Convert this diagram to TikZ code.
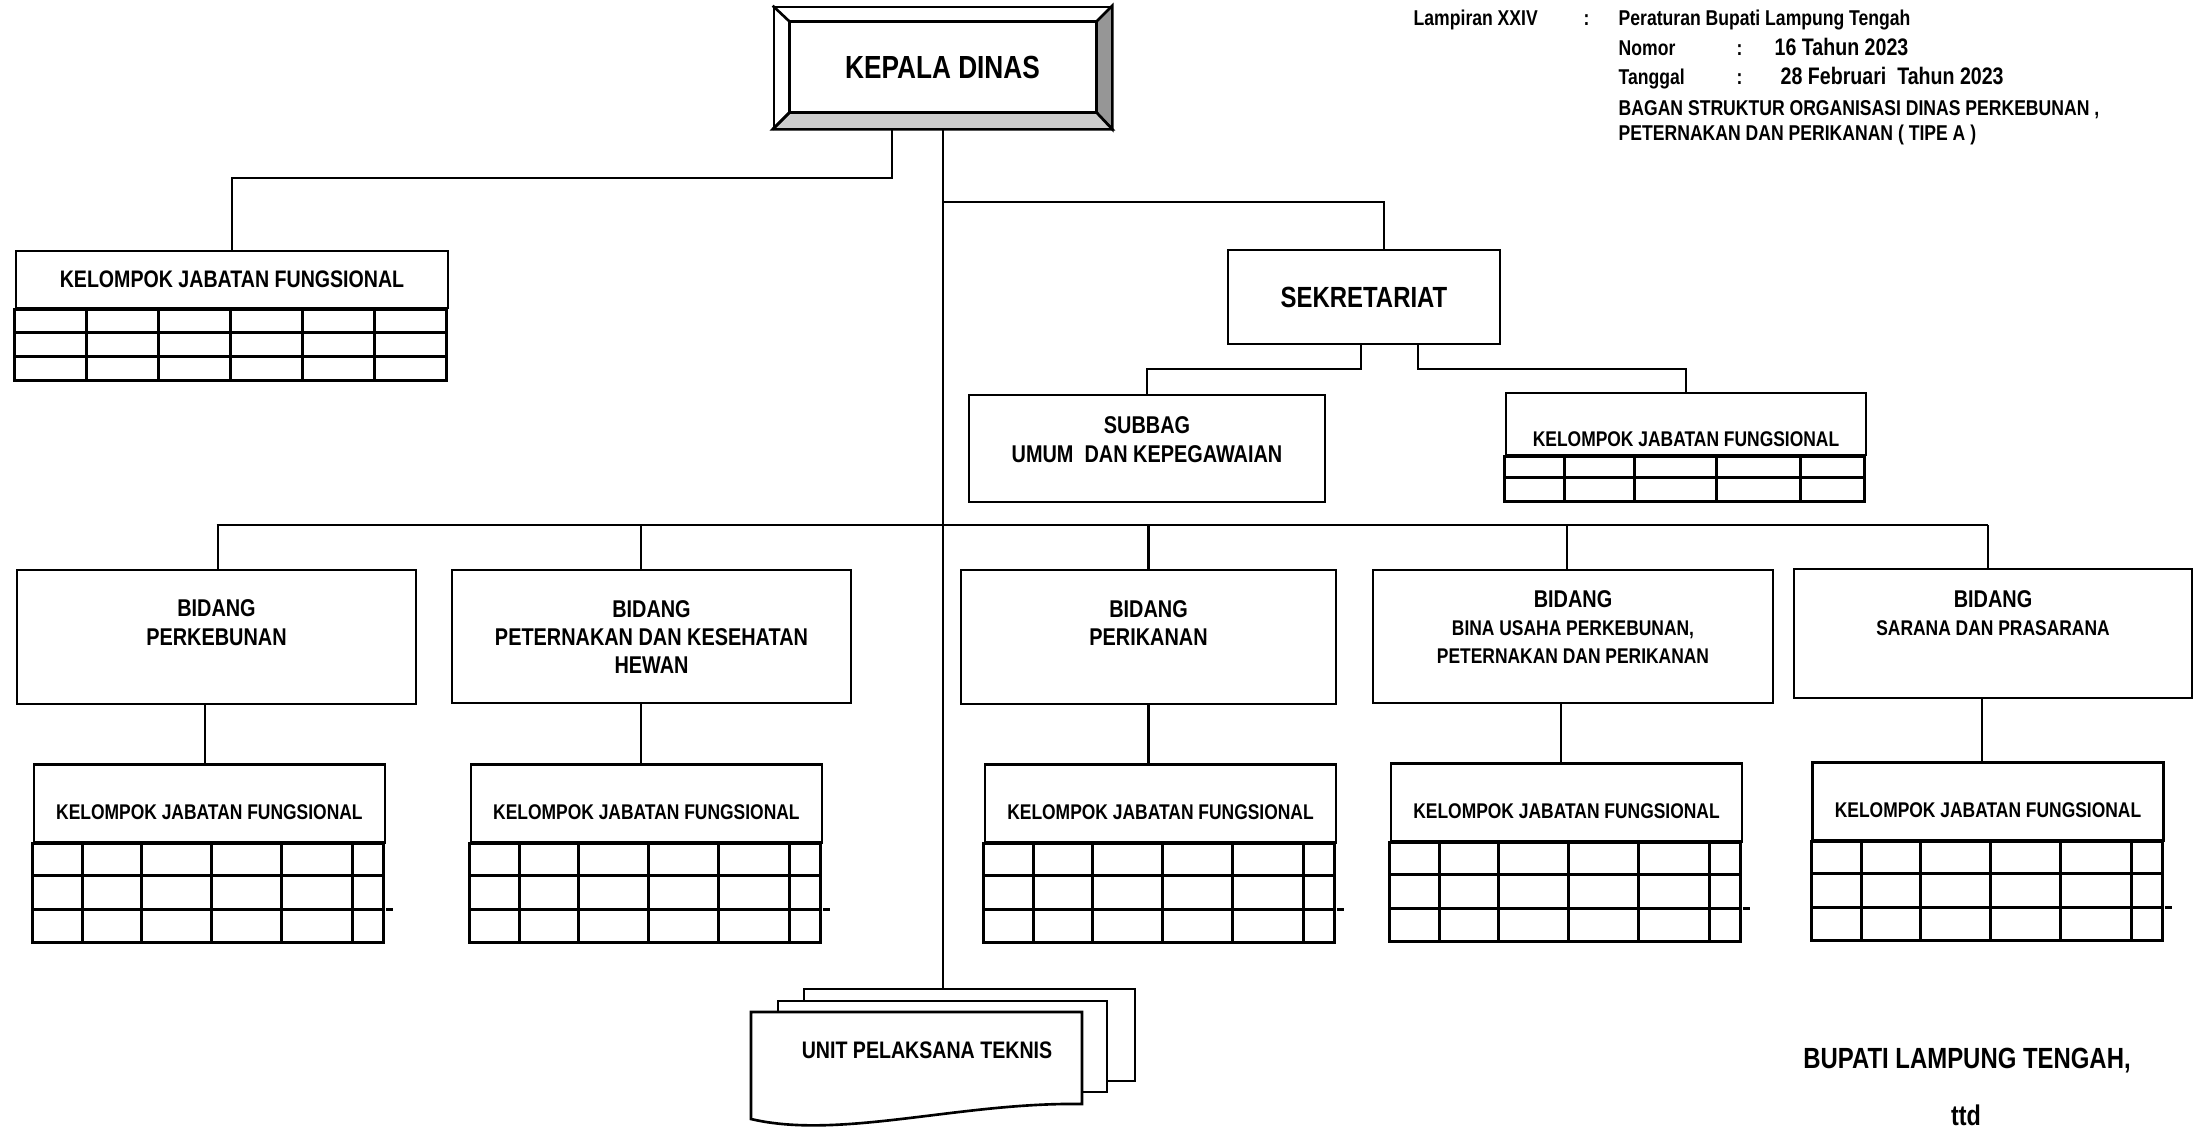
\documentclass[tikz,border=0pt]{standalone}
\usepackage{fontspec}
\setmainfont{Liberation Sans}
\newfontfamily\narrowfont[FakeStretch=0.82]{Liberation Sans Bold}
\usetikzlibrary{calc}
\definecolor{bevdark}{RGB}{150,150,150}
\definecolor{bevlight}{RGB}{205,205,205}
\newcommand{\fs}[2]{\narrowfont\fontsize{#1}{#2}\selectfont}
% rows and columns under a "kelompok" header node
\newcommand{\kjfgrid}[5]{%
  \draw[box] (#1.south west) rectangle ($(#1.south west)+(#2,-#3)$);
  \foreach \r in {#4} \draw[box] ($(#1.south west)+(0,-\r)$) -- ++(#2,0);
  \foreach \c in {#5} \draw[box] ($(#1.south west)+(\c,0)$) -- ++(0,-#3);
}
\tikzset{
  box/.style={draw, line width=0.75pt, inner sep=0pt},
  conn/.style={line width=0.65pt},
  lbl/.style={align=center, inner sep=0pt, font=\fs{6.9}{8}},
  hd/.style={anchor=base west, inner sep=0pt, font=\fs{6.1}{7}},
}
\begin{document}
\begin{tikzpicture}
\useasboundingbox (0,0) rectangle (22.03,-11.28);

% kepala dinas
\node[box, minimum width=3.37cm, minimum height=1.21cm, font=\fs{9.1}{11}] (kd) at (9.425,-0.675) {KEPALA DINAS};
\coordinate (kdnw) at ($(kd.north west)+(0.17,-0.16)$);
\coordinate (kdne) at ($(kd.north east)+(-0.16,-0.16)$);
\coordinate (kdsw) at ($(kd.south west)+(0.17,0.17)$);
\coordinate (kdse) at ($(kd.south east)+(-0.16,0.17)$);
\filldraw[box, fill=bevdark] (kd.north east) -- (kdne) -- (kdse) -- (kd.south east) -- cycle;
\filldraw[box, fill=bevlight] (kd.south west) -- (kdsw) -- (kdse) -- (kd.south east) -- cycle;
\draw[box] (kdnw) rectangle (kdse);
\draw[box] (kd.north west) -- (kdnw);
\draw[box] (kd.south west) -- (kdsw);

% header
\node[hd] (lamp) at (14.13,-0.25) {Lampiran XXIV};
\node[hd] (lampc) at (15.83,-0.25) {:};
\node[hd] (perbup) at (16.18,-0.25) {Peraturan Bupati Lampung Tengah};
\node[hd] (nomor) at (16.18,-0.55) {Nomor};
\node[hd] (nomorc) at (17.36,-0.55) {:};
\node[hd, font=\fs{6.8}{8}] (nomorv) at (17.74,-0.55) {16 Tahun 2023};
\node[hd] (tgl) at (16.18,-0.84) {Tanggal};
\node[hd] (tglc) at (17.36,-0.84) {:};
\node[hd, font=\fs{6.8}{8}] (tglv) at (17.8,-0.84) {28 Februari\ \ Tahun 2023};
\node[hd] (judul1) at (16.18,-1.15) {BAGAN STRUKTUR ORGANISASI DINAS PERKEBUNAN ,};
\node[hd] (judul2) at (16.18,-1.40) {PETERNAKAN DAN PERIKANAN ( TIPE A )};

% kelompok jabatan fungsional (kepala)
\node[box, minimum width=4.32cm, minimum height=0.57cm, font=\fs{6.8}{8}] (kjf0) at (2.32,-2.795) {KELOMPOK JABATAN FUNGSIONAL};
\kjfgrid{kjf0}{4.32}{0.71}{0.23,0.47}{0.72,1.44,2.16,2.88,3.60}

% sekretariat
\node[box, minimum width=2.72cm, minimum height=0.94cm, font=\fs{8.3}{10}] (sek) at (13.64,-2.97) {SEKRETARIAT};
\node[box, minimum width=3.56cm, minimum height=1.07cm] (subbag) at (11.47,-4.485) {};
\node[lbl] (subbagt) at ([yshift=-0.46cm]subbag.north) {SUBBAG\\UMUM\ \ DAN KEPEGAWAIAN};
\node[box, minimum width=3.60cm, minimum height=0.62cm] (kjfsek) at (16.86,-4.24) {};
\node[lbl, font=\fs{6.05}{7}] (kjfsekt) at ([yshift=-0.47cm]kjfsek.north) {KELOMPOK JABATAN FUNGSIONAL};
\kjfgrid{kjfsek}{3.60}{0.45}{0.21}{0.60,1.30,2.12,2.96}

% bidang
\node[box, minimum width=3.99cm, minimum height=1.34cm] (bid1) at (2.165,-6.37) {};
\node[box, minimum width=3.99cm, minimum height=1.33cm] (bid2) at (6.515,-6.365) {};
\node[box, minimum width=3.75cm, minimum height=1.34cm] (bid3) at (11.485,-6.37) {};
\node[box, minimum width=4.00cm, minimum height=1.33cm] (bid4) at (15.73,-6.365) {};
\node[box, minimum width=3.98cm, minimum height=1.29cm] (bid5) at (19.93,-6.335) {};
\node[lbl] (bidt1) at ([yshift=-0.54cm]bid1.north) {BIDANG\\PERKEBUNAN};
\node[lbl] (bidt2) at ([yshift=-0.68cm]bid2.north) {BIDANG\\PETERNAKAN DAN KESEHATAN\\HEWAN};
\node[lbl] (bidt3) at ([yshift=-0.54cm]bid3.north) {BIDANG\\PERIKANAN};
\node[lbl] (bidt4) at ([yshift=-0.58cm]bid4.north) {BIDANG\\\fs{6.05}{7.1}BINA USAHA PERKEBUNAN,\\\fs{6.05}{7.1}PETERNAKAN DAN PERIKANAN};
\node[lbl] (bidt5) at ([yshift=-0.455cm]bid5.north) {BIDANG\\\fs{6.05}{7.1}SARANA DAN PRASARANA};

% kelompok jabatan fungsional (bidang)
\foreach \n/\x/\y in {1/2.094/-7.63, 2/6.464/-7.63, 3/11.605/-7.63, 4/15.665/-7.62, 5/19.88/-7.61} {
  \node[box, minimum width=3.51cm, minimum height=0.78cm, anchor=north] (kjf\n) at (\x,\y) {};
  \node[lbl, font=\fs{6.05}{7}] (kjft\n) at ([yshift=-0.49cm]kjf\n.north) {KELOMPOK JABATAN FUNGSIONAL};
  \kjfgrid{kjf\n}{3.51}{0.99}{0.32,0.66}{0.50,1.09,1.79,2.49,3.20}
  \draw[box] ($(kjf\n.south east)+(0,-0.66)$) -- ++(0.07,0);
}

% unit pelaksana teknis
\node[box, fill=white, minimum width=3.31cm, minimum height=0.92cm] (upt3) at (9.695,-10.35) {};
\node[box, fill=white, minimum width=3.29cm, minimum height=0.91cm] (upt2) at (9.425,-10.465) {};
\filldraw[box, fill=white] (7.51,-10.12) -- (10.82,-10.12) -- (10.82,-11.04)
  .. controls (9.6,-11.02) and (8.4,-11.40) .. (7.51,-11.19) -- cycle;
\node[lbl, font=\fs{6.8}{8}] (upt) at (9.27,-10.50) {UNIT PELAKSANA TEKNIS};

% connectors
\coordinate (kjfj) at (8.92,-1.78);
\coordinate (trunk) at (9.43,-2.02);
\coordinate (bus) at (9.43,-5.25);
\draw[conn] (kd.south -| kjfj) -- (kjfj) -| (kjf0.north);
\draw[conn] (kd.south -| trunk) -- (upt3.north -| trunk);
\draw[conn] (trunk) -| ($(sek.north)+(0.2,0)$);
\draw[conn] ($(sek.south)+(-0.03,0)$) -- ++(0,-0.24) -| (subbag.north);
\draw[conn] ($(sek.south)+(0.54,0)$) -- ++(0,-0.24) -| (kjfsek.north);
\draw[conn] (bid1.north |- bus) -- ($(bid5.north |- bus)+(-0.05,0)$);
\foreach \b/\dx in {bid1/0.015, bid2/-0.105, bid3/0, bid4/-0.06, bid5/-0.05}
  \draw[conn] ($(\b.north)+(\dx,0)$) -- ($(\b.north |- bus)+(\dx,0)$);
\foreach \n/\dx in {1/-0.115, 2/-0.105, 3/0, 4/-0.12, 5/-0.11}
  \draw[conn] ($(bid\n.south)+(\dx,0)$) -- ($(kjf\n.north -| bid\n.south)+(\dx,0)$);

% tanda tangan
\node[anchor=base, inner sep=0pt, font=\fs{8.3}{10}] (bupati) at (19.67,-10.68) {BUPATI LAMPUNG TENGAH,};
\node[anchor=base, inner sep=0pt, font=\fs{8.1}{10}] (ttd) at (19.66,-11.25) {ttd};
\end{tikzpicture}
\end{document}
